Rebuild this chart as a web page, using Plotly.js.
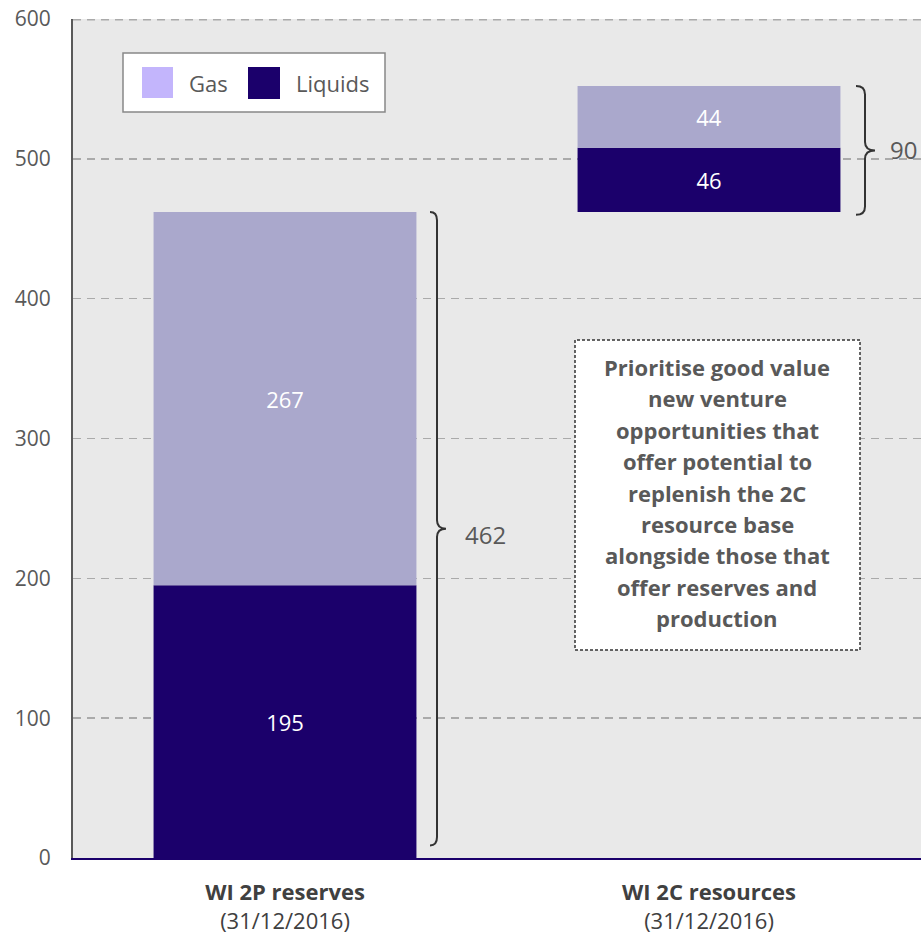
<!DOCTYPE html>
<html>
<head>
<meta charset="utf-8">
<script src="https://cdn.plot.ly/plotly-3.0.1.min.js"></script>
<style>
  html, body { margin: 0; padding: 0; background: #ffffff; }
  #chart { width: 921px; height: 934px; }
</style>
</head>
<body>
<div id="chart"></div>
<script>
// Working-interest reserves and resources (MMboe)
const categories = ['WI 2P reserves', 'WI 2C resources'];
const dateLabels = ['(31/12/2016)', '(31/12/2016)'];
const liquids = [195, 46];
const gas = [267, 44];
const seriesNames = ['Gas', 'Liquids'];
const noteText = ['Prioritise good value', 'new venture', 'opportunities that',
  'offer potential to', 'replenish the 2C', 'resource base',
  'alongside those that', 'offer reserves and', 'production'];

// 2C bar floats on top of the 2P total
const totals = liquids.map((v, i) => v + gas[i]);
const bases = [0, totals[0]];
const gasBases = bases.map((b, i) => b + liquids[i]);

const FONT = '"Open Sans", "Noto Sans", sans-serif';
const TEXT = '#595959';
const LIQ = '#1b006b';
const GAS = '#aaa8cc';
const GAS_KEY = '#c3b5fc';

// plot area in pixels
const L = 73, R = 921, T = 19, B = 858;
const px = x => (x - L) / (R - L);
const py = y => (B - y) / (B - T);

const traces = [
  {
    type: 'bar', name: seriesNames[1], x: categories, y: liquids, base: bases,
    marker: {color: LIQ}, width: 0.62,
    text: liquids.map(String), textposition: 'inside', insidetextanchor: 'middle',
    textfont: {family: FONT, size: 22, color: '#ffffff'}, hoverinfo: 'skip'
  },
  {
    type: 'bar', name: seriesNames[0], x: categories, y: gas, base: gasBases,
    marker: {color: GAS}, width: 0.62,
    text: gas.map(String), textposition: 'inside', insidetextanchor: 'middle',
    textfont: {family: FONT, size: 22, color: '#ffffff'}, hoverinfo: 'skip'
  }
];

// curly brace: x in paper units, y in data units
function brace(xa, xb, xc, y0, y1, r) {
  const m = (y0 + y1) / 2;
  return `M ${xa},${y1} Q ${xb},${y1} ${xb},${y1 - r} L ${xb},${m + r} ` +
         `Q ${xb},${m} ${xc},${m} Q ${xb},${m} ${xb},${m - r} ` +
         `L ${xb},${y0 + r} Q ${xb},${y0} ${xa},${y0}`;
}

const shapes = [
  // top gridline at the axis maximum
  {type: 'line', xref: 'paper', yref: 'y', x0: 0, x1: 1, y0: 599.5, y1: 599.5,
   line: {color: '#aaaaaa', width: 1.5, dash: '8px,6px'}},
  {type: 'path', xref: 'paper', yref: 'y',
   path: brace(px(430), px(437), px(446), bases[0] + 9, totals[0], 6),
   line: {color: '#333333', width: 2}},
  {type: 'path', xref: 'paper', yref: 'y',
   path: brace(px(856), px(865), px(875), bases[1] - 2, bases[1] + totals[1], 6),
   line: {color: '#333333', width: 2}},
  // note box
  {type: 'rect', xref: 'paper', yref: 'paper', x0: px(575), x1: px(860), y0: py(650), y1: py(340),
   fillcolor: '#ffffff', line: {color: '#333333', width: 1.5, dash: '3px,2px'}, layer: 'above'},
  // legend box
  {type: 'rect', xref: 'paper', yref: 'paper', x0: px(123), x1: px(385), y0: py(112), y1: py(53),
   fillcolor: '#ffffff', line: {color: '#888888', width: 1.5}},
  {type: 'rect', xref: 'paper', yref: 'paper', x0: px(142), x1: px(173), y0: py(98), y1: py(67),
   fillcolor: GAS_KEY, line: {width: 0}},
  {type: 'rect', xref: 'paper', yref: 'paper', x0: px(248), x1: px(280), y0: py(99), y1: py(67),
   fillcolor: LIQ, line: {width: 0}}
];

const annotations = [
  {xref: 'paper', yref: 'y', x: px(463), y: totals[0] / 2, text: String(totals[0]),
   xanchor: 'left', yanchor: 'middle', showarrow: false,
   font: {family: FONT, size: 24, color: TEXT}},
  {xref: 'paper', yref: 'y', x: px(888), y: bases[1] + totals[1] / 2, text: String(totals[1]),
   xanchor: 'left', yanchor: 'middle', showarrow: false,
   font: {family: FONT, size: 24, color: TEXT}},
  {xref: 'paper', yref: 'paper', x: px(187), y: py(83), text: seriesNames[0],
   xanchor: 'left', yanchor: 'middle', showarrow: false,
   font: {family: FONT, size: 22, color: TEXT}},
  {xref: 'paper', yref: 'paper', x: px(294), y: py(83), text: seriesNames[1],
   xanchor: 'left', yanchor: 'middle', showarrow: false,
   font: {family: FONT, size: 22, color: TEXT}}
];

// note text, one annotation per line for the wider line pitch
noteText.forEach((line, i) => {
  annotations.push({
    xref: 'paper', yref: 'paper', x: px(717), y: py(367 + i * 31.4),
    text: '<b>' + line + '</b>', xanchor: 'center', yanchor: 'middle', showarrow: false,
    font: {family: FONT, size: 22, color: TEXT}
  });
});

const layout = {
  width: 921, height: 934,
  margin: {l: L, r: 921 - R, t: T, b: 934 - B},
  paper_bgcolor: '#ffffff', plot_bgcolor: '#e9e9e9',
  barmode: 'overlay', showlegend: false,
  font: {family: FONT, size: 21, color: TEXT},
  xaxis: {
    type: 'category', range: [-0.5, 1.5],
    tickvals: categories,
    ticktext: categories.map((c, i) => '<b>' + c + '</b><br>' + dateLabels[i]),
    tickfont: {family: FONT, size: 22, color: '#404040'},
    showgrid: false, zeroline: false, ticks: '',
    showline: true, linecolor: LIQ, linewidth: 2, ticklabelstandoff: 14
  },
  yaxis: {
    range: [0, 600], dtick: 100, tick0: 0,
    tickfont: {family: FONT, size: 21, color: TEXT},
    showgrid: true, gridcolor: '#aaaaaa', gridwidth: 1.5, griddash: '8px,6px',
    zeroline: false, showline: true, linecolor: '#595959', linewidth: 2,
    ticks: '', ticklabelstandoff: 16
  },
  shapes: shapes,
  annotations: annotations
};

Plotly.newPlot('chart', traces, layout, {displayModeBar: false, staticPlot: true});
</script>
</body>
</html>
